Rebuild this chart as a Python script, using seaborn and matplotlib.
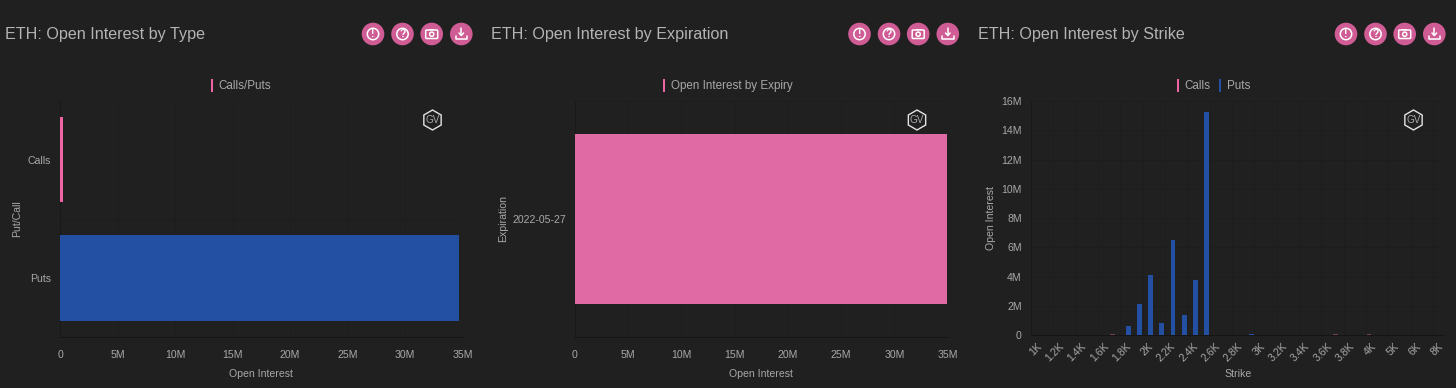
import numpy as np
import pandas as pd
import matplotlib
matplotlib.use('Agg')
import matplotlib.pyplot as plt
import matplotlib.patches as mpatches
import seaborn as sns

BG = '#212021'
PINK = '#e06ba4'
LEGEND_PINK = '#ee65a6'
BLUE = '#2350a3'
GRID = '#1c1c1c'
AXIS = '#141414'
TEXT = '#a8a8a8'

# panel 1
type_labels = ['Calls', 'Puts']
type_values = [0.22e6, 34.7e6]
type_colors = [LEGEND_PINK, BLUE]

# panel 2
expiry_labels = ['2022-05-27']
expiry_values = [34.9e6]

# panel 3
strikes = ['1K', '1.1K', '1.2K', '1.3K', '1.4K', '1.5K', '1.6K', '1.7K', '1.8K', '1.9K',
           '2K', '2.1K', '2.2K', '2.3K', '2.4K', '2.5K', '2.6K', '2.7K', '2.8K', '2.9K',
           '3K', '3.1K', '3.2K', '3.3K', '3.4K', '3.5K', '3.6K', '3.7K', '3.8K', '3.9K',
           '4K', '4.5K', '5K', '5.5K', '6K', '7K', '8K']
calls_oi = [0, 0, 0, 0, 0, 0, 0.01, 0.07, 0.01, 0,
            0, 0, 0, 0, 0, 0, 0.01, 0.01, 0.01, 0.01,
            0.01, 0.02, 0.04, 0.03, 0.02, 0.01, 0.01, 0.06, 0.04, 0.01,
            0.09, 0.01, 0.01, 0, 0.01, 0, 0]
puts_oi = [0, 0, 0, 0, 0, 0.02, 0.01, 0.03, 0.64, 2.14,
           4.09, 0.82, 6.5, 1.41, 3.77, 15.23, 0.01, 0, 0.01, 0.09,
           0.01, 0.01, 0, 0.01, 0, 0, 0, 0, 0, 0,
           0.01, 0, 0, 0, 0, 0, 0]

oi_ticks = [0, 5e6, 10e6, 15e6, 20e6, 25e6, 30e6, 35e6]
oi_labels = ['0', '5M', '10M', '15M', '20M', '25M', '30M', '35M']
strike_oi_ticks = [0, 2e6, 4e6, 6e6, 8e6, 10e6, 12e6, 14e6, 16e6]
strike_oi_labels = ['0', '2M', '4M', '6M', '8M', '10M', '12M', '14M', '16M']

sns.set_theme(style='dark', rc={'figure.facecolor': BG, 'axes.facecolor': BG})
plt.rcParams['font.family'] = ['Liberation Sans', 'DejaVu Sans']

W, H = 1456, 388
fig = plt.figure(figsize=(W / 100, H / 100), dpi=100)


def make_axes(left, right, top, bottom):
    ax = fig.add_axes([left / W, 1 - bottom / H, (right - left) / W, (bottom - top) / H])
    ax.set_facecolor(BG)
    return ax


def style_axes(ax):
    for name, spine in ax.spines.items():
        spine.set_visible(name in ('left', 'bottom'))
        spine.set_color(AXIS)
        spine.set_linewidth(0.7)
        spine.set_zorder(0.5)
    ax.tick_params(colors=TEXT, labelsize=7.6, length=0, pad=7)
    ax.tick_params(which='minor', length=7, width=0.5, color=GRID)
    ax.grid(False)


def hbar_panel(ax, labels, values, colors, ylabel, ylab_x):
    df = pd.DataFrame({'label': labels, 'oi': values})
    sns.barplot(data=df, x='oi', y='label', hue='label', palette=colors, width=0.72,
                legend=False, linewidth=0, saturation=1, ax=ax)
    style_axes(ax)
    ax.set_xlim(0, 35e6)
    ax.set_xticks(oi_ticks, oi_labels)
    ax.set_yticks(np.arange(len(labels) + 1) - 0.5, minor=True)
    ax.grid(True, axis='x', color=GRID, linewidth=0.5)
    ax.grid(True, axis='y', which='minor', color=GRID, linewidth=0.5)
    ax.set_axisbelow(True)
    ax.tick_params(axis='y', pad=6.5)
    ax.tick_params(axis='x', pad=9)
    ax.set_xlabel('Open Interest', fontsize=7.6, color=TEXT)
    ax.set_ylabel(ylabel, fontsize=7.6, color=TEXT)
    ax.xaxis.set_label_coords(0.5, -37 / 237)
    ax.yaxis.set_label_coords(ylab_x, 0.5)
    ax.xaxis.label.set_va('center')
    ax.yaxis.label.set_va('center')


ax1 = make_axes(60, 462.7, 100.5, 337.3)
hbar_panel(ax1, type_labels, type_values, type_colors, 'Put/Call', -43 / 402.7)

ax2 = make_axes(575, 947.7, 100.5, 337.3)
hbar_panel(ax2, expiry_labels, expiry_values, [PINK], 'Expiration', -71.5 / 372.7)

ax3 = make_axes(1031, 1444, 101, 335.3)
strike_df = pd.DataFrame({
    'strike': strikes * 2,
    'oi': [v * 1e6 for v in calls_oi] + [v * 1e6 for v in puts_oi],
    'type': ['Calls'] * len(strikes) + ['Puts'] * len(strikes),
})
sns.barplot(data=strike_df, x='strike', y='oi', hue='type', palette=['#7a3a58', BLUE], width=0.88,
            legend=False, linewidth=0, saturation=1, ax=ax3)
style_axes(ax3)
ax3.set_ylim(0, 16e6)
ax3.set_xlim(-0.5, len(strikes) - 0.5)
ax3.set_yticks(strike_oi_ticks, strike_oi_labels)
ax3.set_xticks(np.arange(0, len(strikes), 2), strikes[::2], rotation=45, ha='right',
               va='top', rotation_mode='anchor')
ax3.set_xticks(np.arange(-0.5, len(strikes), 2), minor=True)
ax3.grid(True, axis='x', which='minor', color=GRID, linewidth=0.5)
ax3.grid(True, axis='y', color=GRID, linewidth=0.5)
ax3.set_axisbelow(True)
ax3.tick_params(axis='x', which='minor', length=0)
ax3.tick_params(axis='x', which='major', pad=4.5)
ax3.tick_params(axis='y', length=5, width=0.5, color=GRID, pad=1.7)
ax3.set_xlabel('Strike', fontsize=7.6, color=TEXT)
ax3.set_ylabel('Open Interest', fontsize=7.6, color=TEXT)
ax3.xaxis.set_label_coords((1237.7 - 1031) / 413, -(374 - 335.3) / 234.3)
ax3.yaxis.set_label_coords(-40.3 / 413, 0.5)
ax3.xaxis.label.set_va('center')
ax3.yaxis.label.set_va('center')

# page furniture in pixel coordinates
over = fig.add_axes([0, 0, 1, 1], zorder=5)
over.set_xlim(0, W)
over.set_ylim(H, 0)
over.axis('off')


def icons(dx):
    ring = dict(fill=False, ec='white', lw=1.1)
    for x in (373, 402.5, 431.7, 461.3):
        over.add_patch(mpatches.Circle((x + dx, 34), 11.3, fc='#cf5c94', ec='none'))
    over.add_patch(mpatches.Circle((373 + dx, 34), 5.7, **ring))
    over.text(373 + dx, 34, '!', color='white', fontsize=7.5, fontweight='bold', ha='center', va='center')
    over.add_patch(mpatches.Circle((402.5 + dx, 34), 5.7, **ring))
    over.text(402.5 + dx, 34, '?', color='white', fontsize=7.5, fontweight='bold', ha='center', va='center')
    over.add_patch(mpatches.FancyBboxPatch((425.7 + dx, 30), 12, 8.5,
                                           boxstyle='round,pad=0,rounding_size=1', **ring))
    over.add_patch(mpatches.Rectangle((429 + dx, 28.5), 5.4, 1.5, fc='white', ec='none'))
    over.add_patch(mpatches.Circle((431.7 + dx, 34.2), 2.1, **ring))
    over.plot([461.3 + dx, 461.3 + dx], [28, 35], color='white', lw=1.1)
    over.plot([459 + dx, 461.3 + dx, 463.6 + dx], [33, 35.5, 33], color='white', lw=1.1)
    over.plot([455.5 + dx, 455.5 + dx, 467 + dx, 467 + dx], [36, 39, 39, 36], color='white', lw=1.1)


def gv_logo(x, y=120):
    r = 10
    pts = [(x + r * np.sin(a), y - r * np.cos(a)) for a in np.deg2rad(np.arange(0, 360, 60))]
    over.add_patch(mpatches.Polygon(pts, closed=True, fill=False, ec='#e4e4e4', lw=1))
    over.text(x, y + 0.3, 'GV', color='#a8a8a8', fontsize=7.2, ha='center', va='center')


titles = ['ETH: Open Interest by Type', 'ETH: Open Interest by Expiration', 'ETH: Open Interest by Strike']
for title, x, dx in zip(titles, (5, 491, 977.5), (0, 486.5, 973)):
    over.text(x, 34, title, color='#b4b4b4', fontsize=11.6, ha='left', va='center')
    icons(dx)

for x in (432.5, 917, 1413.5):
    gv_logo(x)

legend_items = [(212, 218.7, 'Calls/Puts', LEGEND_PINK), (664.3, 671, 'Open Interest by Expiry', LEGEND_PINK),
                (1178, 1184.7, 'Calls', LEGEND_PINK), (1219.7, 1226.7, 'Puts', BLUE)]
for mx, tx, label, color in legend_items:
    over.add_patch(mpatches.Rectangle((mx - 1.2, 79), 2.4, 13, fc=color, ec='none'))
    over.text(tx, 86, label, color=TEXT, fontsize=8.35, ha='left', va='center')

fig.savefig('out.png', dpi=100, facecolor=BG)
